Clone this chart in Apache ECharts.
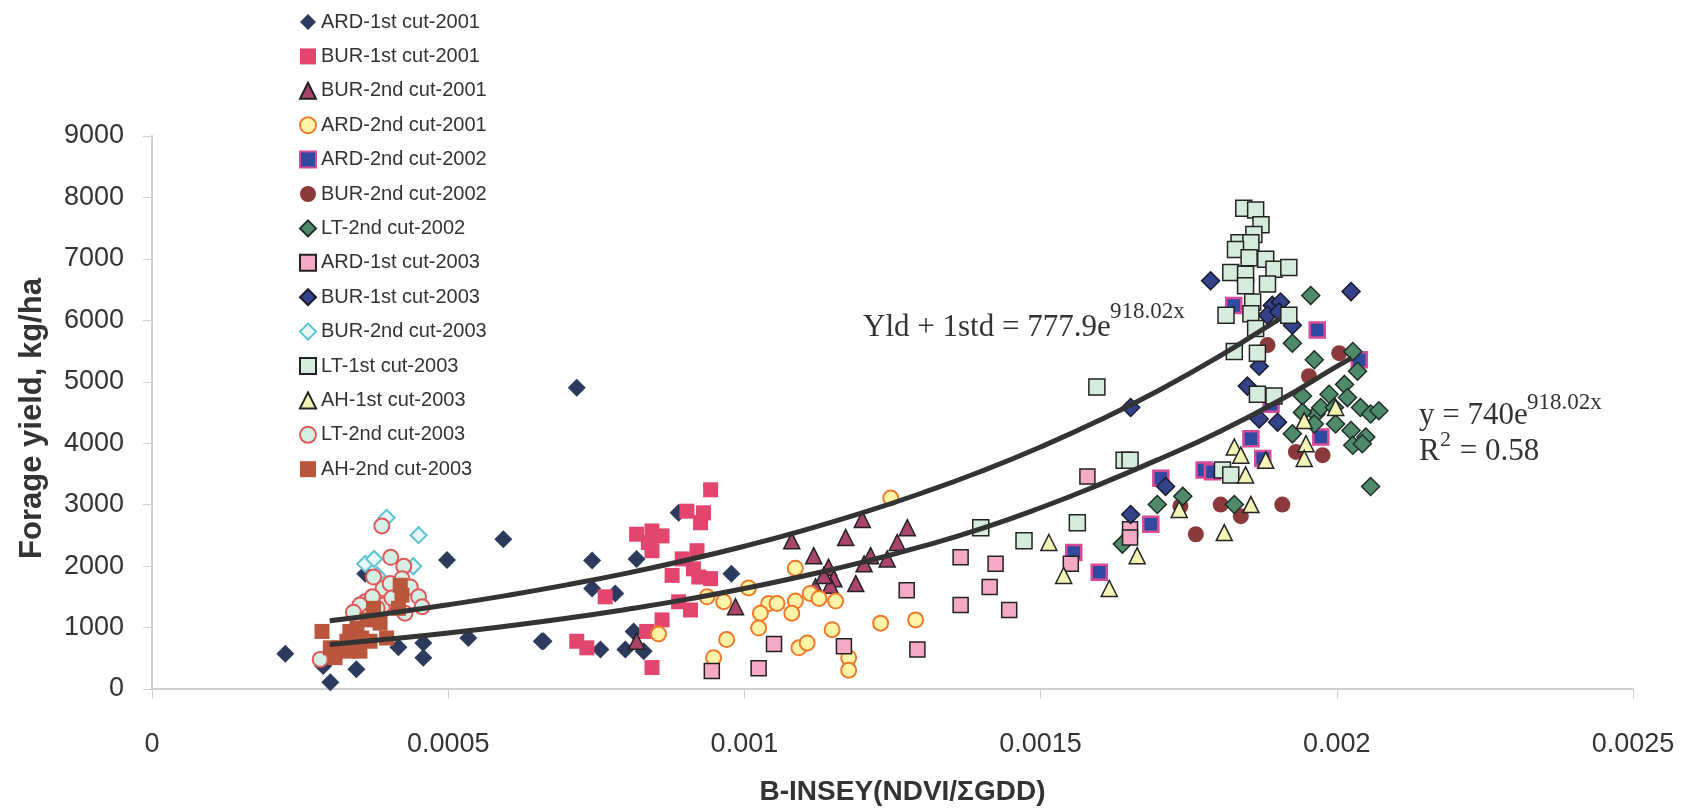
<!DOCTYPE html>
<html>
<head>
<meta charset="utf-8">
<script src="https://cdn.jsdelivr.net/npm/echarts@6/dist/echarts.min.js"></script>
<style>
html,body{margin:0;padding:0;background:#fff;}
#chart{width:1703px;height:811px;}
</style>
</head>
<body>
<div id="chart"></div>
<script>
// ---- data ----
const seriesNames = ['ARD-1st cut-2001','BUR-1st cut-2001','BUR-2nd cut-2001','ARD-2nd cut-2001','ARD-2nd cut-2002','BUR-2nd cut-2002','LT-2nd cut-2002','ARD-1st cut-2003','BUR-1st cut-2003','BUR-2nd cut-2003','LT-1st cut-2003','AH-1st cut-2003','LT-2nd cut-2003','AH-2nd cut-2003'];
const xTickLabels = ['0','0.0005','0.001','0.0015','0.002','0.0025'];
const yTickLabels = ['0','1000','2000','3000','4000','5000','6000','7000','8000','9000'];

const ard1_2001 = [[0.000225,574],[0.000289,375],[0.000301,108],[0.000345,322],[0.000416,680],[0.000458,510],[0.000458,750],[0.000498,2101],[0.000593,2439],[0.000534,830],[0.000658,777],[0.00036,1876],[0.000717,4904],[0.000743,2090],[0.000818,2117],[0.000743,1635],[0.000782,1554],[0.000661,777],[0.000757,643],[0.000799,643],[0.00083,616],[0.000813,937],[0.000889,2867],[0.000978,1876]];
const bur1_2001 = [[0.000943,3242],[0.000903,2894],[0.000931,2867],[0.000926,2706],[0.000818,2519],[0.000844,2572],[0.000861,2492],[0.000838,2384],[0.000844,2251],[0.00092,2251],[0.000895,2117],[0.000914,1956],[0.000878,1849],[0.000923,1822],[0.000943,1796],[0.000765,1500],[0.000889,1420],[0.000909,1286],[0.000861,1125],[0.000835,937],[0.000717,777],[0.000734,670],[0.000844,349]];
const bur2_2001 = [[0.000985,1339],[0.000818,777],[0.00108,2412],[0.001117,2170],[0.001171,2465],[0.001199,2760],[0.001275,2626],[0.001258,2384],[0.001241,2117],[0.001213,2170],[0.001202,2037],[0.001142,1982],[0.001151,1796],[0.001145,1688],[0.001188,1715],[0.00112,1661],[0.001134,1849]];
const ard2_2001 = [[0.001247,3108],[0.001086,1966],[0.001007,1645],[0.000937,1500],[0.000965,1420],[0.001111,1554],[0.001126,1474],[0.001154,1431],[0.001041,1393],[0.001055,1393],[0.001086,1431],[0.001027,1233],[0.00108,1233],[0.001024,991],[0.00097,804],[0.000855,895],[0.001148,965],[0.00123,1072],[0.001289,1125],[0.000948,510],[0.001092,670],[0.001106,750],[0.001176,510],[0.001176,305]];
const ard2_2002 = [[0.001556,2223],[0.001599,1902],[0.001703,3429],[0.001686,2680],[0.001776,3564],[0.00179,3537],[0.001855,4072],[0.001875,3751],[0.001967,5841],[0.001973,4100],[0.002038,5359],[0.001889,4635],[0.001826,6243]];
const bur2_2002 = [[0.001883,5598],[0.001953,5091],[0.002004,5466],[0.001931,3858],[0.001976,3805],[0.001804,3002],[0.001838,2813],[0.001908,3002],[0.001762,2519],[0.001736,2974]];
const lt2_2002 = [[0.001697,3002],[0.00174,3135],[0.001638,2358],[0.001827,3002],[0.001925,5627],[0.001956,6404],[0.001962,5359],[0.001942,4770],[0.001925,4153],[0.002027,5493],[0.002035,5171],[0.002013,4957],[0.001987,4797],[0.001965,4475],[0.001973,4582],[0.001996,4582],[0.002018,4743],[0.00204,4582],[0.002057,4475],[0.002071,4528],[0.001998,4314],[0.002024,4207],[0.002049,4100],[0.002027,3966],[0.002043,3992],[0.002057,3296],[0.001942,4502],[0.001962,4314]];
const ard1_2003 = [[0.001274,1608],[0.001292,643],[0.00105,734],[0.001168,696],[0.000945,294],[0.001024,338],[0.001579,3457],[0.001365,2143],[0.001424,2037],[0.001414,1661],[0.001365,1367],[0.001447,1286],[0.001551,2037],[0.001651,2599],[0.001651,2465]];
const bur1_2003 = [[0.001652,4582],[0.001652,2840],[0.001711,3296],[0.001787,6645],[0.002024,6468],[0.001891,6243],[0.001905,6297],[0.001883,6082],[0.001902,6136],[0.001925,5921],[0.001869,5252],[0.001849,4930],[0.001869,4394],[0.0019,4341]];
const bur2_2003 = [[0.000396,2786],[0.00045,2503],[0.00036,2037],[0.000375,2117],[0.000441,1998],[0.00038,1850]];
const lt1_2003 = [[0.001595,4914],[0.001641,3724],[0.001651,3724],[0.001399,2626],[0.001472,2412],[0.001562,2706],[0.001807,3564],[0.001821,3484],[0.001827,5494],[0.001843,7824],[0.001863,7797],[0.001872,7556],[0.00186,7395],[0.001835,7261],[0.001855,7261],[0.001829,7154],[0.001852,7020],[0.00188,6993],[0.001821,6779],[0.001846,6752],[0.001894,6833],[0.001919,6859],[0.001846,6564],[0.001883,6592],[0.001858,6297],[0.001855,6109],[0.001813,6082],[0.001919,6082],[0.001863,5868],[0.001866,5466],[0.001866,4796],[0.001894,4770]];
const ah1_2003 = [[0.001514,2384],[0.001539,1849],[0.001616,1635],[0.001663,2170],[0.001734,2921],[0.00181,2545],[0.001827,3939],[0.001838,3805],[0.001846,3484],[0.001855,3002],[0.00188,3724],[0.001945,4368],[0.001948,3992],[0.001945,3751],[0.001998,4582]];
const lt2_2003 = [[0.000388,2653],[0.000403,2143],[0.000425,1998],[0.000374,1822],[0.00039,1635],[0.000402,1715],[0.000422,1796],[0.000426,1635],[0.000436,1661],[0.00036,1420],[0.000351,1367],[0.000391,1367],[0.000413,1367],[0.00045,1500],[0.000456,1339],[0.000365,1178],[0.000427,1233],[0.000284,482],[0.00038,1313],[0.000372,1500],[0.000405,1480],[0.00034,1250]];
const ah2_2003 = [[0.000287,937],[0.000334,937],[0.000329,777],[0.000309,510],[0.000315,670],[0.000351,616],[0.000368,777],[0.000396,830],[0.000363,1125],[0.000374,1313],[0.000419,1688],[0.000422,1527],[0.000416,1313],[0.000346,991],[0.000385,1072],[0.000354,830],[0.000332,616],[0.000301,670]];

// trend curves: heights at even steps
const trendLower = [[0.0003,723],[0.0004,812],[0.0005,912],[0.0006,1025],[0.0007,1150],[0.0008,1295],[0.0009,1455],[0.001,1635],[0.0011,1840],[0.0012,2065],[0.0013,2320],[0.0014,2610],[0.0015,2950],[0.0016,3330],[0.0017,3740],[0.0018,4180],[0.0019,4680],[0.002,5250],[0.002025,5390]];
const trendUpper = [[0.0003,1110],[0.0004,1234],[0.0005,1371],[0.0006,1524],[0.0007,1694],[0.0008,1882],[0.0009,2092],[0.001,2324],[0.0011,2583],[0.0012,2870],[0.0013,3190],[0.0014,3544],[0.0015,3939],[0.0016,4376],[0.0017,4863],[0.0018,5404],[0.0019,6005],[0.001904,6030]];

const seriesData = [ard1_2001,bur1_2001,bur2_2001,ard2_2001,ard2_2002,bur2_2002,lt2_2002,ard1_2003,bur1_2003,bur2_2003,lt1_2003,ah1_2003,lt2_2003,ah2_2003];
const styles = [
  {symbol:'diamond',size:18,color:'#2C3A5E',border:'#2C3A5E',bw:0},
  {symbol:'rect',size:15,color:'#E2466F',border:'#E2466F',bw:0},
  {symbol:'triangle',size:16,color:'#A9456B',border:'#222222',bw:1.5},
  {symbol:'circle',size:15,color:'#FFF4A8',border:'#F07A2A',bw:2},
  {symbol:'rect',size:15,color:'#2F4AA0',border:'#D94A98',bw:2.5},
  {symbol:'circle',size:16,color:'#8A3A3A',border:'#8A3A3A',bw:0},
  {symbol:'diamond',size:18,color:'#4F8B6B',border:'#1E2E26',bw:1.5},
  {symbol:'rect',size:15,color:'#F4A9C4',border:'#222222',bw:1.5},
  {symbol:'diamond',size:18,color:'#34428C',border:'#1A1A2A',bw:1.5},
  {symbol:'diamond',size:16,color:'#EAF7F8',border:'#5CC3D3',bw:2},
  {symbol:'rect',size:16,color:'#D5EBDC',border:'#222222',bw:1.5},
  {symbol:'triangle',size:16,color:'#F3F5B4',border:'#222222',bw:1.5},
  {symbol:'circle',size:15,color:'#D6EFE4',border:'#E0585A',bw:2},
  {symbol:'rect',size:15,color:'#B9563B',border:'#B9563B',bw:0}
];

const chart = echarts.init(document.getElementById('chart'));
const series = seriesNames.map((name,i)=>({
  name:name, type:'scatter', data:seriesData[i],
  symbol:styles[i].symbol, symbolSize:styles[i].size,
  itemStyle:{color:styles[i].color, borderColor:styles[i].border, borderWidth:styles[i].bw, opacity:1},
  z:2
}));
series.push({name:'trendUpper',type:'line',data:trendUpper,smooth:true,showSymbol:false,symbol:'none',
  lineStyle:{color:'#333333',width:5},z:5,silent:true});
series.push({name:'trendLower',type:'line',data:trendLower,smooth:true,showSymbol:false,symbol:'none',
  lineStyle:{color:'#333333',width:5},z:5,silent:true});

const sans = '"Liberation Sans",Arial,sans-serif';
const serif = '"Liberation Serif","Times New Roman",serif';
chart.setOption({
  backgroundColor:'#ffffff',
  animation:false,
  grid:{left:152,right:70,top:136,bottom:115,containLabel:false},
  legend:{
    data:seriesNames, orient:'vertical', left:294, top:5,
    itemWidth:16, itemHeight:16, itemGap:10.4,
    textStyle:{fontFamily:sans,fontSize:20,color:'#333',lineHeight:24}
  },
  xAxis:{
    type:'value', min:0, max:0.0025, interval:0.0005,
    name:'B-INSEY(NDVI/ΣGDD)', nameLocation:'middle', nameGap:89,
    nameTextStyle:{fontFamily:sans,fontSize:28,fontWeight:'bold',color:'#333',padding:[0,0,0,20]},
    axisLine:{show:true,lineStyle:{color:'#cfcfcf',width:2}},
    axisTick:{show:true,length:10,lineStyle:{color:'#cfcfcf'}},
    splitLine:{show:false},
    axisLabel:{fontFamily:sans,fontSize:27,color:'#333',margin:42,
      formatter:(v)=>xTickLabels[Math.round(v/0.0005)]}
  },
  yAxis:{
    type:'value', min:0, max:9000, interval:1000,
    name:'Forage yield, kg/ha', nameLocation:'middle', nameGap:104,
    nameTextStyle:{fontFamily:sans,fontSize:31,fontWeight:'bold',color:'#333',padding:[0,12,0,0]},
    axisLine:{show:true,lineStyle:{color:'#cfcfcf',width:2}},
    axisTick:{show:true,length:9,lineStyle:{color:'#cfcfcf'}},
    splitLine:{show:false},
    axisLabel:{fontFamily:sans,fontSize:27,color:'#333',margin:28,
      formatter:(v)=>yTickLabels[Math.round(v/1000)]}
  },
  graphic:[
    {type:'text',left:863,top:312,style:{text:'Yld + 1std = 777.9e',font:'31px '+serif,fill:'#333'}},
    {type:'text',left:1110,top:300,style:{text:'918.02x',font:'23px '+serif,fill:'#333'}},
    {type:'text',left:1419,top:400,style:{text:'y = 740e',font:'31px '+serif,fill:'#333'}},
    {type:'text',left:1527,top:391,style:{text:'918.02x',font:'23px '+serif,fill:'#333'}},
    {type:'text',left:1419,top:436,style:{text:'R',font:'31px '+serif,fill:'#333'}},
    {type:'text',left:1440,top:429,style:{text:'2',font:'22px '+serif,fill:'#333'}},
    {type:'text',left:1452,top:436,style:{text:' = 0.58',font:'31px '+serif,fill:'#333'}}
  ],
  series:series
});
</script>
</body>
</html>
